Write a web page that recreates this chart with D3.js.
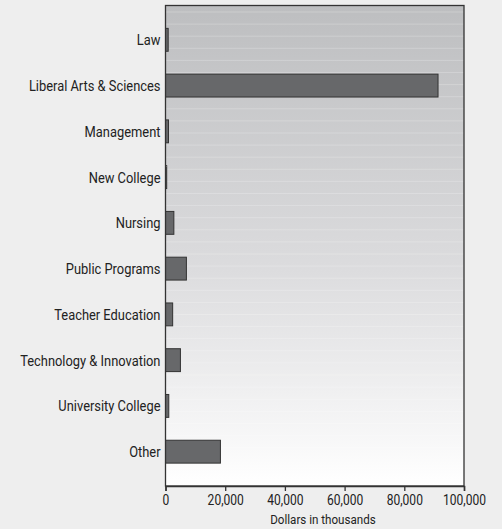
<!DOCTYPE html>
<html>
<head>
<meta charset="utf-8">
<script src="https://cdn.jsdelivr.net/npm/d3@7"></script>
<style>
  body { margin: 0; background: #eeeeee; }
  svg { display: block; }
  text { font-family: "Roboto", "Liberation Sans", sans-serif; fill: #222; }
</style>
</head>
<body>
<div id="chart"></div>
<script>
// data (dollars in thousands)
var categories = ["Law", "Liberal Arts & Sciences", "Management", "New College", "Nursing",
    "Public Programs", "Teacher Education", "Technology & Innovation", "University College", "Other"];
var values = [900, 91300, 1000, 400, 2800, 7000, 2400, 5000, 1100, 18400];
var xTicks = [0, 20000, 40000, 60000, 80000, 100000];
var xTitle = "Dollars in thousands";

var width = 502, height = 529;
var margin = { top: 5.5, right: 38, bottom: 43, left: 165.5 };
var squeeze = 0.86; // condensed look

var svg = d3.select("#chart").append("svg")
    .attr("width", width)
    .attr("height", height);

svg.append("rect").attr("width", width).attr("height", height).attr("fill", "#eeeeee");

var x = d3.scaleLinear().domain([0, 100000]).range([margin.left, width - margin.right]);
var y = d3.scaleBand().domain(categories).range([margin.top, height - margin.bottom]).padding(0.5);

// plot background gradient
var defs = svg.append("defs");
var grad = defs.append("linearGradient").attr("id", "bg").attr("x1", 0).attr("y1", 0).attr("x2", 0).attr("y2", 1);
grad.append("stop").attr("offset", "0%").attr("stop-color", "#bdbec0");
grad.append("stop").attr("offset", "55%").attr("stop-color", "#dcdcde");
grad.append("stop").attr("offset", "100%").attr("stop-color", "#ffffff");

var plotTop = margin.top, plotBottom = height - margin.bottom;
svg.append("rect")
    .attr("x", x(0)).attr("y", plotTop)
    .attr("width", x(100000) - x(0)).attr("height", plotBottom - plotTop)
    .attr("fill", "url(#bg)");

// faint light stripes
svg.append("g").selectAll("line")
    .data(d3.range(plotTop + 6.5, plotBottom - 4, 12.1))
    .enter().append("line")
    .attr("x1", x(0)).attr("x2", x(100000))
    .attr("y1", function(d){ return d; }).attr("y2", function(d){ return d; })
    .attr("stroke", "#ffffff").attr("stroke-opacity", 0.22).attr("stroke-width", 1);

// bars
svg.append("g").selectAll("rect")
    .data(values)
    .enter().append("rect")
    .attr("x", x(0))
    .attr("y", function(d, i){ return y(categories[i]); })
    .attr("width", function(d){ return Math.max(1, x(d) - x(0)); })
    .attr("height", y.bandwidth())
    .attr("fill", "#67686a")
    .attr("stroke", "#333333")
    .attr("stroke-width", 1);

// frame
svg.append("rect")
    .attr("x", x(0)).attr("y", plotTop)
    .attr("width", x(100000) - x(0)).attr("height", plotBottom - plotTop)
    .attr("fill", "none").attr("stroke", "#333333").attr("stroke-width", 1.3);

// x axis
var xAxis = svg.append("g")
    .attr("transform", "translate(0," + plotBottom + ")")
    .call(d3.axisBottom(x).tickValues(xTicks).tickSize(5).tickPadding(4).tickFormat(d3.format(",")));
xAxis.select(".domain").attr("stroke", "#333").attr("stroke-width", 1.5);
xAxis.selectAll(".tick line").attr("stroke", "#333").attr("stroke-width", 1.3);
xAxis.selectAll("text")
    .style("font-size", "14px").style("font-family", "Roboto, sans-serif")
    .attr("fill", "#222")
    .attr("transform", "scale(" + squeeze + ",1)");

// y labels
svg.append("g").selectAll("text")
    .data(categories)
    .enter().append("text")
    .attr("transform", function(d){
        return "translate(" + (x(0) - 5) + "," + (y(d) + y.bandwidth() / 2) + ") scale(" + squeeze + ",1)";
    })
    .attr("dy", "0.36em")
    .attr("text-anchor", "end")
    .style("font-size", "15px")
    .text(function(d){ return d; });

svg.append("text")
    .attr("transform", "translate(323,524) scale(" + squeeze + ",1)")
    .attr("text-anchor", "middle")
    .style("font-size", "13.5px")
    .text(xTitle);
</script>
</body>
</html>
